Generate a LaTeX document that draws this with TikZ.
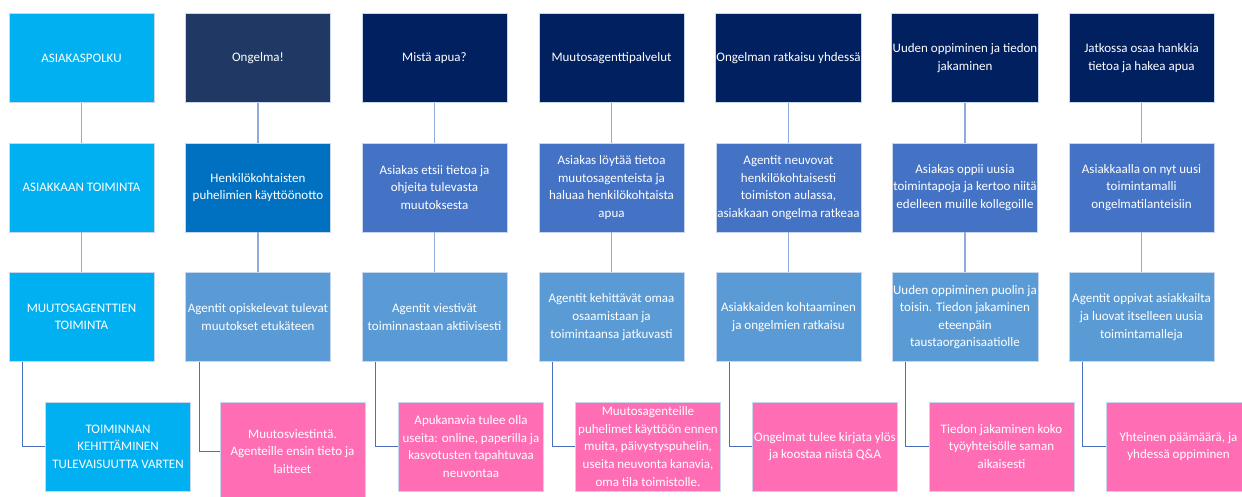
\documentclass[tikz,border=0pt]{standalone}
\usepackage{fontspec}
\setmainfont{Carlito}
\usetikzlibrary{positioning}
\definecolor{cpCyan}{HTML}{00B0F0}
\definecolor{cpNavy}{HTML}{002060}
\definecolor{cpSlate}{HTML}{203864}
\definecolor{cpBlue}{HTML}{0070C0}
\definecolor{cpMid}{HTML}{4472C4}
\definecolor{cpSky}{HTML}{5B9BD5}
\definecolor{cpPink}{HTML}{FF6EB4}
\definecolor{cpLine}{HTML}{8FAADC}
\definecolor{cpElbow}{HTML}{4A6FBF}
\definecolor{cpEdge}{HTML}{C9D7EE}
\tikzset{
  box/.style={
    draw=cpEdge, line width=0.6pt, inner sep=1pt, align=center,
    minimum width=145pt, minimum height=89pt, text=white,
    font=\fontsize{13}{17.6}\selectfont
  },
  head/.style={box, fill=cpNavy},
  act/.style={box, fill=cpMid},
  agent/.style={box, fill=cpSky},
  note/.style={box, fill=cpPink},
  link/.style={line width=1.6pt, draw=cpLine},
  elbow/.style={line width=1.3pt, draw=cpElbow},
}
\begin{document}
\begin{tikzpicture}[x=1pt, y=-1pt]
  \useasboundingbox (0,0) rectangle (1242,496);
  % ylin rivi: vaiheet
  \node[box, fill=cpCyan] (h1) at (81.5,58) {ASIAKASPOLKU};
  \node[head, fill=cpSlate] (h2) at (258,58) {Ongelma!};
  \node[head] (h3) at (434.5,58) {Mistä apua?};
  \node[head] (h4) at (611.5,58) {Muutosagenttipalvelut};
  \node[head] (h5) at (788.5,58) {Ongelman ratkaisu yhdessä};
  \node[head] (h6) at (965,58) {Uuden oppiminen ja tiedon\\jakaminen};
  \node[head] (h7) at (1141.5,58) {Jatkossa osaa hankkia\\tietoa ja hakea apua};
  % asiakkaan toiminta
  \node[box, fill=cpCyan] (c1) at (81.5,187.5) {ASIAKKAAN TOIMINTA};
  \node[act, fill=cpBlue] (c2) at (258,187.5) {Henkilökohtaisten\\puhelimien käyttöönotto};
  \node[act] (c3) at (434.5,187.5) {Asiakas etsii tietoa ja\\ohjeita tulevasta\\muutoksesta};
  \node[act] (c4) at (611.5,187.5) {Asiakas löytää tietoa\\muutosagenteista ja\\haluaa henkilökohtaista\\apua};
  \node[act] (c5) at (788.5,187.5) {Agentit neuvovat\\henkilökohtaisesti\\toimiston aulassa,\\asiakkaan ongelma ratkeaa};
  \node[act] (c6) at (965,187.5) {Asiakas oppii uusia\\toimintapoja ja kertoo niitä\\edelleen muille kollegoille};
  \node[act] (c7) at (1141.5,187.5) {Asiakkaalla on nyt uusi\\toimintamalli\\ongelmatilanteisiin};
  % muutosagenttien toiminta
  \node[box, fill=cpCyan] (m1) at (81.5,317) {MUUTOSAGENTTIEN\\TOIMINTA};
  \node[agent] (m2) at (258,317) {Agentit opiskelevat tulevat\\muutokset etukäteen};
  \node[agent] (m3) at (434.5,317) {Agentit viestivät\\toiminnastaan aktiivisesti};
  \node[agent] (m4) at (611.5,317) {Agentit kehittävät omaa\\osaamistaan ja\\toimintaansa jatkuvasti};
  \node[agent] (m5) at (788.5,317) {Asiakkaiden kohtaaminen\\ja ongelmien ratkaisu};
  \node[agent] (m6) at (965,317) {Uuden oppiminen puolin ja\\toisin. Tiedon jakaminen\\eteenpäin\\taustaorganisaatiolle};
  \node[agent] (m7) at (1141.5,317) {Agentit oppivat asiakkailta\\ja luovat itselleen uusia\\toimintamalleja};
  % kehittäminen
  \node[box, fill=cpCyan] (d1) at (118,446.5) {TOIMINNAN\\KEHITTÄMINEN\\TULEVAISUUTTA VARTEN};
  \node[note, minimum height=99pt] (d2) at (292.5,451.5) {Muutosviestintä.\\Agenteille ensin tieto ja\\laitteet};
  \node[note] (d3) at (471,446.5) {Apukanavia tulee olla\\useita: online, paperilla ja\\kasvotusten tapahtuvaa\\neuvontaa};
  \node[note] (d4) at (648,446.5) {Muutosagenteille\\puhelimet käyttöön ennen\\muita, päivystyspuhelin,\\useita neuvonta kanavia,\\oma tila toimistolle.};
  \node[note] (d5) at (825,446.5) {Ongelmat tulee kirjata ylös\\ja koostaa niistä Q\&A};
  \node[note] (d6) at (1001.5,446.5) {Tiedon jakaminen koko\\työyhteisölle saman\\aikaisesti};
  \node[note] (d7) at (1178.5,446.5) {Yhteinen päämäärä, ja\\yhdessä oppiminen};
  \foreach \i in {1,...,7} {
    \draw[link] (h\i.south) -- (c\i.north);
    \draw[link] (c\i.south) -- (m\i.north);
    \draw[elbow] ([xshift=14pt]m\i.south west) |- (d\i.west);
  }
\end{tikzpicture}
\end{document}
